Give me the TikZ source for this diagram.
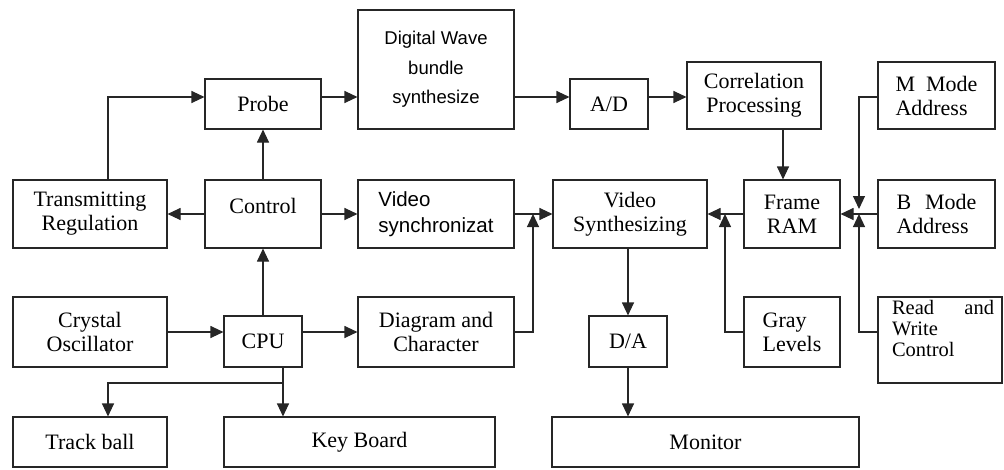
\documentclass[tikz,border=0pt]{standalone}
\usepackage{fontspec}
\setmainfont{Liberation Serif}
\newfontfamily\sansf{Liberation Sans}
\usetikzlibrary{arrows.meta}
\tikzset{
  blk/.style={draw=black!85, line width=1.1pt, inner sep=0pt, align=center,
    font=\fontsize{22}{24}\selectfont},
  arr/.style={draw=black!85, line width=1.1pt, -{Triangle[length=13pt,width=12pt]}},
  ln/.style={draw=black!85, line width=1.1pt},
}
\begin{document}
\begin{tikzpicture}[x=1pt,y=-1pt]
\useasboundingbox (0,0) rectangle (1004,469);
%NODE
\node[blk, minimum width=116pt, minimum height=50pt] (probe) at (263,104) {Probe};
\node[blk, minimum width=156pt, minimum height=119pt, font=\sansf\fontsize{18.5}{29.5}\selectfont] (dwave) at (436,69.5) {Digital Wave\\bundle\\synthesize};
\node[blk, minimum width=78pt, minimum height=50pt] (adc) at (609,104) {A/D};
\node[blk, minimum width=134pt, minimum height=67pt] (corr) at (754,95.5) {Correlation\\Processing};
\node[blk, minimum width=117pt, minimum height=67pt, align=left] (mmode) at (936.5,95.5) {\makebox[82pt][s]{M Mode}\\Address};
\node[blk, minimum width=154pt, minimum height=68pt] (trans) at (90,214) {Transmitting\\Regulation};
\node[blk, minimum width=116pt, minimum height=68pt] (control) at (263,214) {\raisebox{16pt}{Control}};
\node[blk, minimum width=156pt, minimum height=68pt, align=left, font=\sansf\fontsize{20.5}{26}\selectfont] (vsync) at (436,214) {Video\\synchronizat};
\node[blk, minimum width=154pt, minimum height=68pt] (vsynth) at (630,214) {Video\\Synthesizing};
\node[blk, minimum width=96pt, minimum height=68pt] (fram) at (792,214) {Frame\\RAM};
\node[blk, minimum width=117pt, minimum height=68pt, align=left] (bmode) at (936.5,214) {\makebox[80pt][s]{B Mode}\\Address};
\node[blk, minimum width=154pt, minimum height=70pt] (crystal) at (90,332) {Crystal\\Oscillator};
\node[blk, minimum width=78pt, minimum height=51pt] (cpu) at (263,341.5) {CPU};
\node[blk, minimum width=156pt, minimum height=70pt] (diag) at (436,332) {Diagram and\\Character};
\node[blk, minimum width=78pt, minimum height=51pt] (dac) at (628,341.5) {D/A};
\node[blk, minimum width=96pt, minimum height=70pt, align=left] (gray) at (792,332) {Gray\\Levels};
\node[blk, minimum width=124pt, minimum height=86pt, align=left, font=\fontsize{20.5}{21}\selectfont] (rw) at (940,340) {\hspace*{6pt}\makebox[102pt][s]{Read and}\\\hspace*{6pt}Write\\\hspace*{6pt}Control\\[2pt]};
\node[blk, minimum width=154pt, minimum height=50pt] (track) at (90,442) {Track ball};
\node[blk, minimum width=271pt, minimum height=50pt] (key) at (359.5,442) {Key Board};
\node[blk, minimum width=307pt, minimum height=50pt] (monitor) at (705.5,442) {Monitor};

\coordinate (ysig) at (0,97);
\coordinate (ylow) at (0,332);
\coordinate (ybus) at (0,383);
\coordinate (xtr) at (108,0);
\coordinate (xbus) at (283,0);
\coordinate (xfr) at (783,0);
\coordinate (jd) at (533,214);
\coordinate (jg) at (725,214);
\coordinate (jm) at (859,214);

%EDGE
\draw[arr] (xtr |- trans.north) |- (probe.west |- ysig);
\draw[arr] (probe.east |- ysig) -- (dwave.west |- ysig);
\draw[arr] (dwave.east |- ysig) -- (adc.west |- ysig);
\draw[arr] (adc.east |- ysig) -- (corr.west |- ysig);
\draw[arr] (xfr |- corr.south) -- (xfr |- fram.north);
\draw[arr] (control) -- (probe);
\draw[arr] (control) -- (trans);
\draw[arr] (control) -- (vsync);
\draw[arr] (cpu) -- (control);
\draw[arr] (crystal.east |- ylow) -- (cpu.west |- ylow);
\draw[arr] (cpu.east |- ylow) -- (diag.west |- ylow);
\draw[ln] (xbus |- cpu.south) -- (xbus |- ybus);
\draw[arr] (xbus |- ybus) -| (xtr |- track.north);
\draw[arr] (xbus |- ybus) -- (xbus |- key.north);
\draw[arr] (vsync) -- (vsynth);
\draw[arr] (diag.east |- ylow) -| (jd);
\draw[arr] (fram) -- (vsynth);
\draw[arr] (gray.west |- ylow) -| (jg);
\draw[arr] (vsynth.south -| dac.north) -- (dac.north);
\draw[arr] (dac) -- (monitor.north -| dac);
\draw[arr, shorten >=5pt] (mmode.west |- ysig) -| (jm);
\draw[arr] (rw.west |- ylow) -| (jm);
\draw[arr] (bmode) -- (fram);
\end{tikzpicture}
\end{document}
